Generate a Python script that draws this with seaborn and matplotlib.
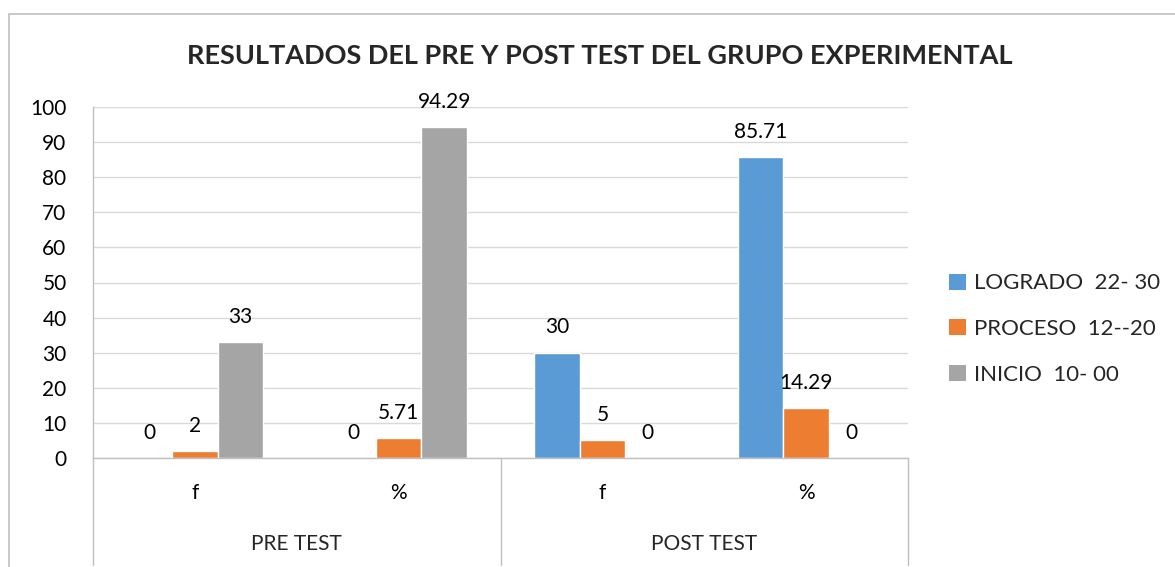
import pandas as pd
import seaborn as sns
import matplotlib.pyplot as plt
from matplotlib.patches import Rectangle, Patch

## Data
grupos = ['PRE TEST', 'PRE TEST', 'POST TEST', 'POST TEST']
medidas = ['f', '%', 'f', '%']
niveles = ['LOGRADO  22- 30', 'PROCESO  12--20', 'INICIO  10- 00']
logrado = [0, 0, 30, 85.71]
proceso = [2, 5.71, 5, 14.29]
inicio = [33, 94.29, 0, 0]
colores = ['#5B9BD5', '#ED7D31', '#A5A5A5']

claves = [g + ' ' + m for g, m in zip(grupos, medidas)]
df = pd.DataFrame({
    'clave': claves * 3,
    'nivel': [niveles[0]] * 4 + [niveles[1]] * 4 + [niveles[2]] * 4,
    'valor': logrado + proceso + inicio,
})

sns.set_style('white')
plt.rcParams['font.family'] = ['Lato', 'DejaVu Sans']
FS = 15

fig = plt.figure(figsize=(11.75, 5.67), dpi=100)
ax = fig.add_axes([93 / 1175, 1 - 458 / 567, (908 - 93) / 1175, (458 - 107) / 567])

sns.barplot(data=df, x='clave', y='valor', hue='nivel', order=claves,
            hue_order=niveles, palette=colores, width=0.67, gap=0,
            saturation=1, ax=ax, legend=False, errorbar=None)

## Labels on bars
for cont in ax.containers:
    ax.bar_label(cont, labels=[f'{v:g}' for v in cont.datavalues],
                 padding=11, fontsize=FS, color='#000000')

ax.set_ylim(0, 100)
ax.set_xlim(-0.5, 3.5)
ax.set_yticks(range(0, 101, 10))
ax.tick_params(axis='y', length=0, pad=19, labelsize=FS, colors='#000000')
ax.tick_params(axis='x', length=0, pad=18, labelsize=FS, colors='#000000')
ax.set_xticks(range(4))
ax.set_xticklabels(medidas)
ax.set_xlabel('')
ax.set_ylabel('')
ax.yaxis.grid(True, color='#D9D9D9', linewidth=1)
ax.set_axisbelow(True)
for s in ['top', 'right']:
    ax.spines[s].set_visible(False)
for s in ['left', 'bottom']:
    ax.spines[s].set_color('#BFBFBF')
    ax.spines[s].set_linewidth(1)

## Second category level
for x in [-0.5, 1.5, 3.5]:
    ax.plot([x, x], [0, -0.305], transform=ax.get_xaxis_transform(),
            color='#BFBFBF', lw=1, clip_on=False)
for i, g in enumerate(['PRE TEST', 'POST TEST']):
    ax.text(2 * i + 0.5, -0.245, g, transform=ax.get_xaxis_transform(),
            ha='center', va='center', fontsize=FS)

## Title
fig.text(600 / 1175, 1 - 56 / 567, 'RESULTADOS DEL PRE Y POST TEST DEL GRUPO EXPERIMENTAL',
         ha='center', va='center', fontsize=19.5, fontweight='bold')

## Legend
handles = [Patch(facecolor=c, edgecolor='none') for c in colores]
fig.legend(handles, niveles, loc='center left', bbox_to_anchor=(940 / 1175, 1 - 329 / 567),
           frameon=False, fontsize=16, handlelength=0.75, handleheight=0.75,
           handletextpad=0.4, labelspacing=1.15, borderaxespad=0)

## Chart border
fig.patches.append(Rectangle((9 / 1175, -0.05), 1.1, 1 - 14 / 567 + 0.05,
                             transform=fig.transFigure, fill=False,
                             edgecolor='#BFBFBF', lw=1.2))

plt.savefig('out.png', dpi=100)
